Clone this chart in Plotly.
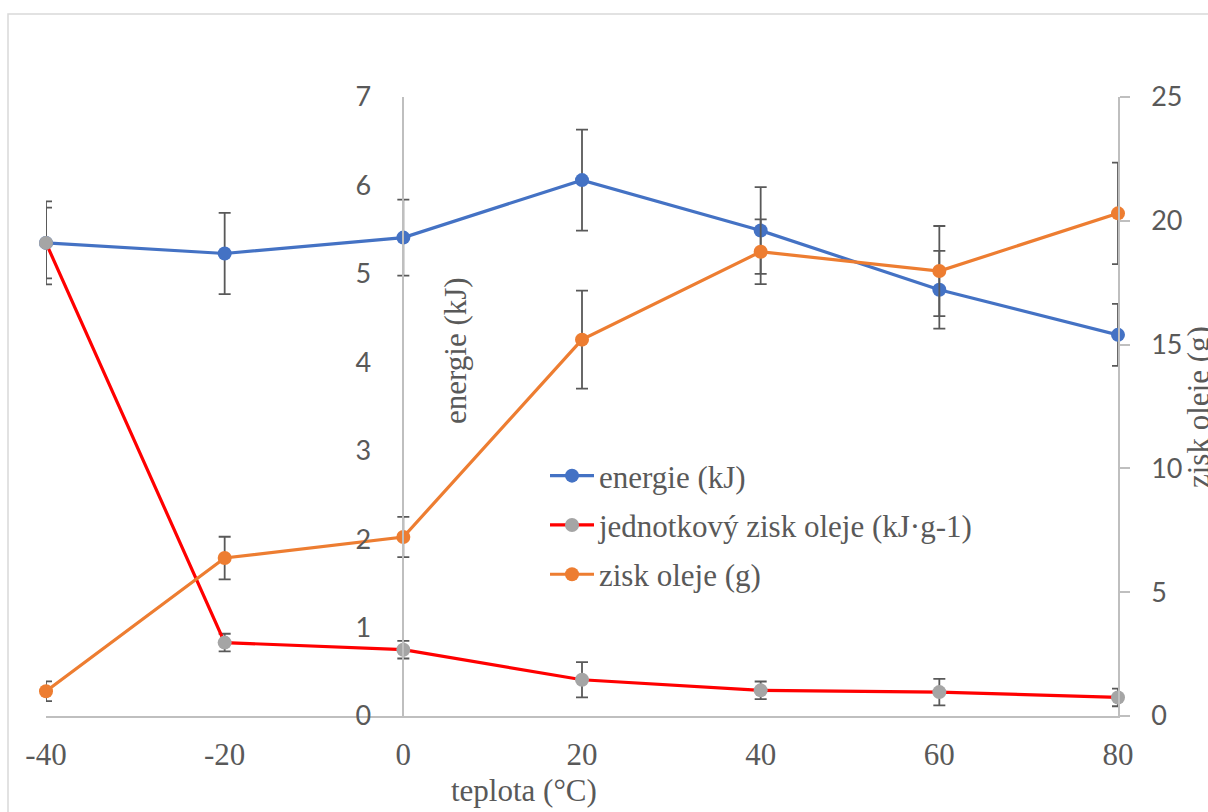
import plotly.graph_objects as go

# ---- data ----
teplota = [-40, -20, 0, 20, 40, 60, 80]
energie = [5.35, 5.23, 5.41, 6.06, 5.49, 4.82, 4.31]
energie_err = [0.47, 0.46, 0.43, 0.57, 0.49, 0.44, 0.35]
jednotkovy = [5.35, 0.83, 0.75, 0.41, 0.29, 0.27, 0.21]
jednotkovy_err = [0.40, 0.10, 0.10, 0.20, 0.10, 0.15, 0.10]
zisk = [1.0, 6.38, 7.23, 15.2, 18.75, 17.97, 20.3]
zisk_err = [0.40, 0.86, 0.81, 1.98, 1.31, 1.82, 2.05]

x_ticks = [-40, -20, 0, 20, 40, 60, 80]
left_ticks = [0, 1, 2, 3, 4, 5, 6, 7]
right_ticks = [0, 5, 10, 15, 20, 25]

W, H = 1208, 812
L, R, T, B = 46, 90, 97, 96
pw, ph = W - L - R, H - T - B

def px_x(p):  # screen pixel -> paper
    return (p - L) / pw

def px_y(p):
    return (H - B - p) / ph

BLUE = "#4472C4"
RED = "#FF0000"
GRAY = "#A5A5A5"
ORANGE = "#ED7D31"
ERR = "#595959"
AX = "#BFBFBF"
TXT = "#595959"
SERIF = "Liberation Serif"
SANS = "Lato"

fig = go.Figure()
err_style = dict(type="data", color=ERR, thickness=1.8, width=6, visible=True)

fig.add_trace(go.Scatter(
    x=teplota, y=energie, name="energie (kJ)", mode="lines+markers",
    line=dict(color=BLUE, width=3.2), marker=dict(color=BLUE, size=14),
    error_y=dict(array=energie_err, **err_style),
    cliponaxis=False, legendgroup="a", yaxis="y"))
fig.add_trace(go.Scatter(
    x=teplota, y=jednotkovy, name="jednotkový zisk oleje (kJ·g-1)", mode="lines+markers",
    line=dict(color=RED, width=3.2), marker=dict(color=GRAY, size=14),
    error_y=dict(array=jednotkovy_err, **err_style),
    cliponaxis=False, legendgroup="b", yaxis="y"))
fig.add_trace(go.Scatter(
    x=teplota, y=zisk, name="zisk oleje (g)", mode="lines+markers",
    line=dict(color=ORANGE, width=3.2), marker=dict(color=ORANGE, size=14),
    error_y=dict(array=zisk_err, **err_style),
    cliponaxis=False, legendgroup="c", yaxis="y2"))

fig.update_layout(
    width=W, height=H, autosize=False,
    margin=dict(l=L, r=R, t=T, b=B, pad=0),
    paper_bgcolor="white", plot_bgcolor="white",
    showlegend=True,
    legend=dict(x=px_x(545), y=px_y(449), xanchor="left", yanchor="top",
                font=dict(family=SERIF, size=31, color=TXT),
                bgcolor="rgba(0,0,0,0)", traceorder="grouped", tracegroupgap=6,
                itemwidth=44),
    xaxis=dict(range=[-40, 80], tickvals=x_ticks, ticktext=[str(v) for v in x_ticks],
               showgrid=False, zeroline=False,
               showline=True, linecolor=AX, linewidth=1.5, ticks="",
               tickfont=dict(family=SERIF, size=31, color=TXT),
               ticklabelstandoff=10, automargin=False),
    yaxis=dict(range=[0, 7], tickvals=left_ticks, showgrid=False, zeroline=False,
               showline=True, linecolor=AX, linewidth=1.5, ticks="",
               anchor="free", position=1/3, side="left",
               tickfont=dict(family=SANS, size=27, color=TXT),
               ticklabelstandoff=26, automargin=False),
    yaxis2=dict(range=[0, 25], tickvals=right_ticks, showgrid=False, zeroline=False,
                showline=True, linecolor=AX, linewidth=1.5, ticks="outside",
                ticklen=10, tickcolor=AX, tickwidth=1.5,
                overlaying="y", side="right", anchor="x",
                tickfont=dict(family=SANS, size=27, color=TXT),
                ticklabelstandoff=16, automargin=False),
    shapes=[dict(type="rect", xref="paper", yref="paper",
                 x0=px_x(8), x1=px_x(1240), y0=px_y(14), y1=px_y(840),
                 line=dict(color="#D9D9D9", width=1.5), fillcolor="rgba(0,0,0,0)",
                 layer="below")],
    annotations=[
        dict(text="teplota (°C)", xref="paper", yref="paper", x=px_x(524), y=px_y(790),
             showarrow=False, font=dict(family=SERIF, size=31, color=TXT),
             xanchor="center", yanchor="middle"),
        dict(text="energie (kJ)", xref="paper", yref="paper", x=px_x(455), y=px_y(351),
             showarrow=False, textangle=-90, font=dict(family=SERIF, size=31, color=TXT),
             xanchor="center", yanchor="middle"),
        dict(text="zisk oleje (g)", xref="paper", yref="paper", x=px_x(1198), y=px_y(407),
             showarrow=False, textangle=-90, font=dict(family=SERIF, size=31, color=TXT),
             xanchor="center", yanchor="middle"),
    ],
)

fig.write_html("out.html", config={"displayModeBar": False},
               post_script="document.body.style.margin='0';document.body.style.overflow='hidden';")
